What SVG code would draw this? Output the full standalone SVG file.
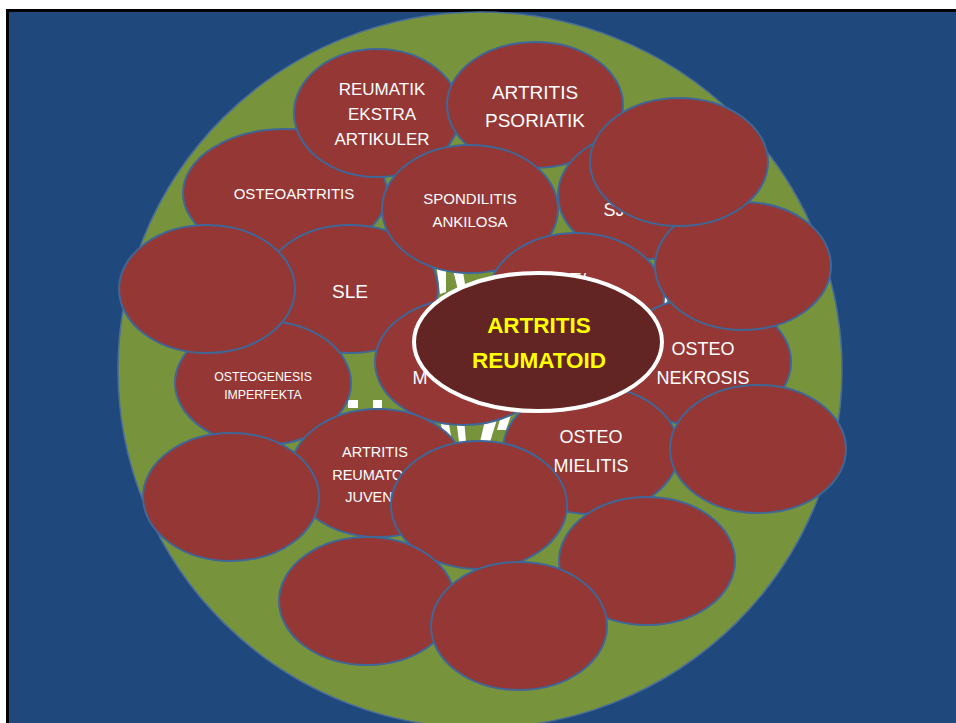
<svg xmlns="http://www.w3.org/2000/svg" width="956" height="723" viewBox="0 0 956 723">
<style>
.n{fill:#953735;stroke:#3F6797;stroke-width:2}
.t{fill:#FFFFFF;font-family:"Liberation Sans",Arial,sans-serif;text-anchor:middle}
.w{fill:#FFFFFF}
</style>
<rect x="0" y="0" width="956" height="723" fill="#FFFFFF"/>
<rect x="7.5" y="10.5" width="960" height="720" fill="#1F497D" stroke="#000000" stroke-width="3"/>
<ellipse cx="480" cy="370" rx="362" ry="358" fill="#77933C" stroke="#4A6E9A" stroke-width="1.5"/>
<g id="stripes">
<polygon class="w" points="436,262 446,262 446,292 440,294"/>
<polygon class="w" points="452,266 462,266 466,290 458,290"/>
<rect class="w" x="348" y="400" width="10" height="8"/>
<rect class="w" x="373" y="400" width="9" height="8"/>
<polygon class="w" points="440,418 448,418 452,442 444,442"/>
<polygon class="w" points="456,418 464,418 466,442 459,442"/>
<polygon class="w" points="486,416 498,416 490,442 480,442"/>
<polygon class="w" points="502,412 512,412 506,430 497,430"/>
<polygon class="w" points="660,292 670,292 666,304 660,304"/>
</g>
<g id="connectors"></g>
<g id="osteoartritis"><ellipse class="n" cx="285" cy="193" rx="102" ry="64"/><text class="t" x="294" y="199" font-size="15">OSTEOARTRITIS</text></g>
<g id="reumatik"><ellipse class="n" cx="377" cy="113" rx="83" ry="64"/><text class="t" font-size="17"><tspan x="382" y="95">REUMATIK</tspan><tspan x="382" y="120">EKSTRA</tspan><tspan x="382" y="145">ARTIKULER</tspan></text></g>
<g id="psoriatik"><ellipse class="n" cx="535" cy="105" rx="88" ry="63"/><text class="t" font-size="19"><tspan x="535" y="99">ARTRITIS</tspan><tspan x="535" y="127">PSORIATIK</tspan></text></g>
<g id="sle"><ellipse class="n" cx="350" cy="289" rx="88" ry="64"/><text class="t" x="350" y="298" font-size="19">SLE</text></g>
<g id="spondilitis"><ellipse class="n" cx="470" cy="209" rx="88" ry="64"/><text class="t" font-size="15"><tspan x="470" y="204">SPONDILITIS</tspan><tspan x="470" y="227">ANKILOSA</tspan></text></g>
<g id="sj"><ellipse class="n" cx="646" cy="195" rx="88" ry="64"/><text class="t" x="614" y="216" font-size="18" text-anchor="start">SJ</text></g>
<g id="gout"><ellipse class="n" cx="576" cy="297" rx="88" ry="64"/><text class="t" x="578" y="286" font-size="18" text-anchor="start">T/</text></g>
<g id="nekrosis"><ellipse class="n" cx="703" cy="362" rx="88" ry="64"/><text class="t" font-size="18"><tspan x="703" y="355">OSTEO</tspan><tspan x="703" y="384">NEKROSIS</tspan></text></g>
<g id="e7"><ellipse class="n" cx="743" cy="266" rx="88" ry="64"/></g>
<g id="e6"><ellipse class="n" cx="679" cy="162" rx="89" ry="64"/></g>
<g id="osteogenesis"><ellipse class="n" cx="263" cy="383" rx="88" ry="62"/><text class="t" font-size="12.3"><tspan x="263" y="381">OSTEOGENESIS</tspan><tspan x="263" y="399">IMPERFEKTA</tspan></text></g>
<g id="e9"><ellipse class="n" cx="207" cy="289" rx="88" ry="64"/></g>
<g id="m"><ellipse class="n" cx="463" cy="362" rx="88" ry="63"/><text class="t" x="420" y="384" font-size="18" text-anchor="start">M</text></g>
<g id="juvenil"><ellipse class="n" cx="378" cy="473" rx="88" ry="64"/><text class="t" font-size="14.5"><tspan x="375" y="457">ARTRITIS</tspan><tspan x="375" y="480">REUMATOID</tspan><tspan x="375" y="502">JUVENIL</tspan></text></g>
<g id="e12"><ellipse class="n" cx="231" cy="497" rx="88" ry="64"/></g>
<g id="mielitis"><ellipse class="n" cx="591" cy="450" rx="88" ry="64"/><text class="t" font-size="18"><tspan x="591" y="443">OSTEO</tspan><tspan x="591" y="472">MIELITIS</tspan></text></g>
<g id="e16"><ellipse class="n" cx="758" cy="449" rx="88" ry="64"/></g>
<g id="e18"><ellipse class="n" cx="479" cy="505" rx="88" ry="64"/></g>
<g id="e19"><ellipse class="n" cx="647" cy="561" rx="88" ry="64"/></g>
<g id="e20"><ellipse class="n" cx="367" cy="601" rx="88" ry="64"/></g>
<g id="e21"><ellipse class="n" cx="519" cy="626" rx="88" ry="64"/></g>
<g id="center"><ellipse cx="538" cy="342" rx="124" ry="69" fill="#632523" stroke="#FFFFFF" stroke-width="4"/><text font-family="'Liberation Sans',Arial,sans-serif" font-weight="bold" font-size="22.5" fill="#FFFF00" text-anchor="middle"><tspan x="539" y="333">ARTRITIS</tspan><tspan x="539" y="368">REUMATOID</tspan></text></g>
</svg>
